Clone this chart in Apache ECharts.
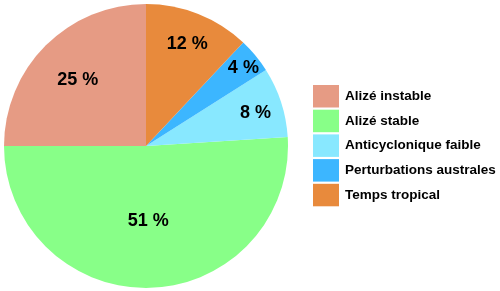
<!DOCTYPE html>
<html>
<head>
<meta charset="utf-8">
<script src="https://cdn.jsdelivr.net/npm/echarts@6/dist/echarts.min.js"></script>
<style>
html,body{margin:0;padding:0;background:#fff;}
#c{width:500px;height:291px;}
</style>
</head>
<body>
<div id="c"></div>
<script>
var categories = ['Alizé instable', 'Alizé stable', 'Anticyclonique faible', 'Perturbations australes', 'Temps tropical'];
var values = [25, 51, 8, 4, 12];
var colors = ['#E69B84', '#88FF88', '#88E8FF', '#3CB6FF', '#E88A3C'];
// label distance from centre as fraction of radius
var labelRadius = [0.68, 0.51, 0.81, 0.89, 0.79];
var labelShiftY = 2.5;

var CX = 146, CY = 146, R = 142;
var chart = echarts.init(document.getElementById('c'), null, {renderer: 'canvas'});
var data = categories.map(function (n, i) {
  return {name: n, value: values[i], itemStyle: {color: colors[i]}};
});
chart.setOption({
  animation: false,
  backgroundColor: '#fff',
  legend: {
    orient: 'vertical',
    left: 313,
    top: 85,
    itemWidth: 26,
    itemHeight: 22.5,
    itemGap: 2.2,
    padding: 0,
    icon: 'rect',
    data: categories,
    textStyle: {fontFamily: 'Liberation Sans, Arial, sans-serif', fontWeight: 'bold', fontSize: 13.5, color: '#000', padding: [0, 0, 0, 1]}
  },
  series: [{
    type: 'pie',
    center: [CX, CY],
    radius: [0, R],
    startAngle: 90,
    clockwise: false,
    avoidLabelOverlap: false,
    itemStyle: {borderWidth: 0},
    emphasis: {disabled: true},
    label: {
      show: true,
      position: 'inside',
      formatter: function (p) { return p.value + ' %'; },
      fontFamily: 'Liberation Sans, Arial, sans-serif',
      fontWeight: 'bold',
      fontSize: 18,
      color: '#000'
    },
    labelLine: {show: false},
    labelLayout: function (p) {
      var r = p.labelRect;
      var lx = r.x + r.width / 2, ly = r.y + r.height / 2;
      var vx = lx - CX, vy = ly - CY;
      var d = Math.sqrt(vx * vx + vy * vy) || 1;
      var target = labelRadius[p.dataIndex] * R;
      return {dx: vx / d * target - vx, dy: vy / d * target - vy + labelShiftY};
    },
    data: data
  }]
});
</script>
</body>
</html>
